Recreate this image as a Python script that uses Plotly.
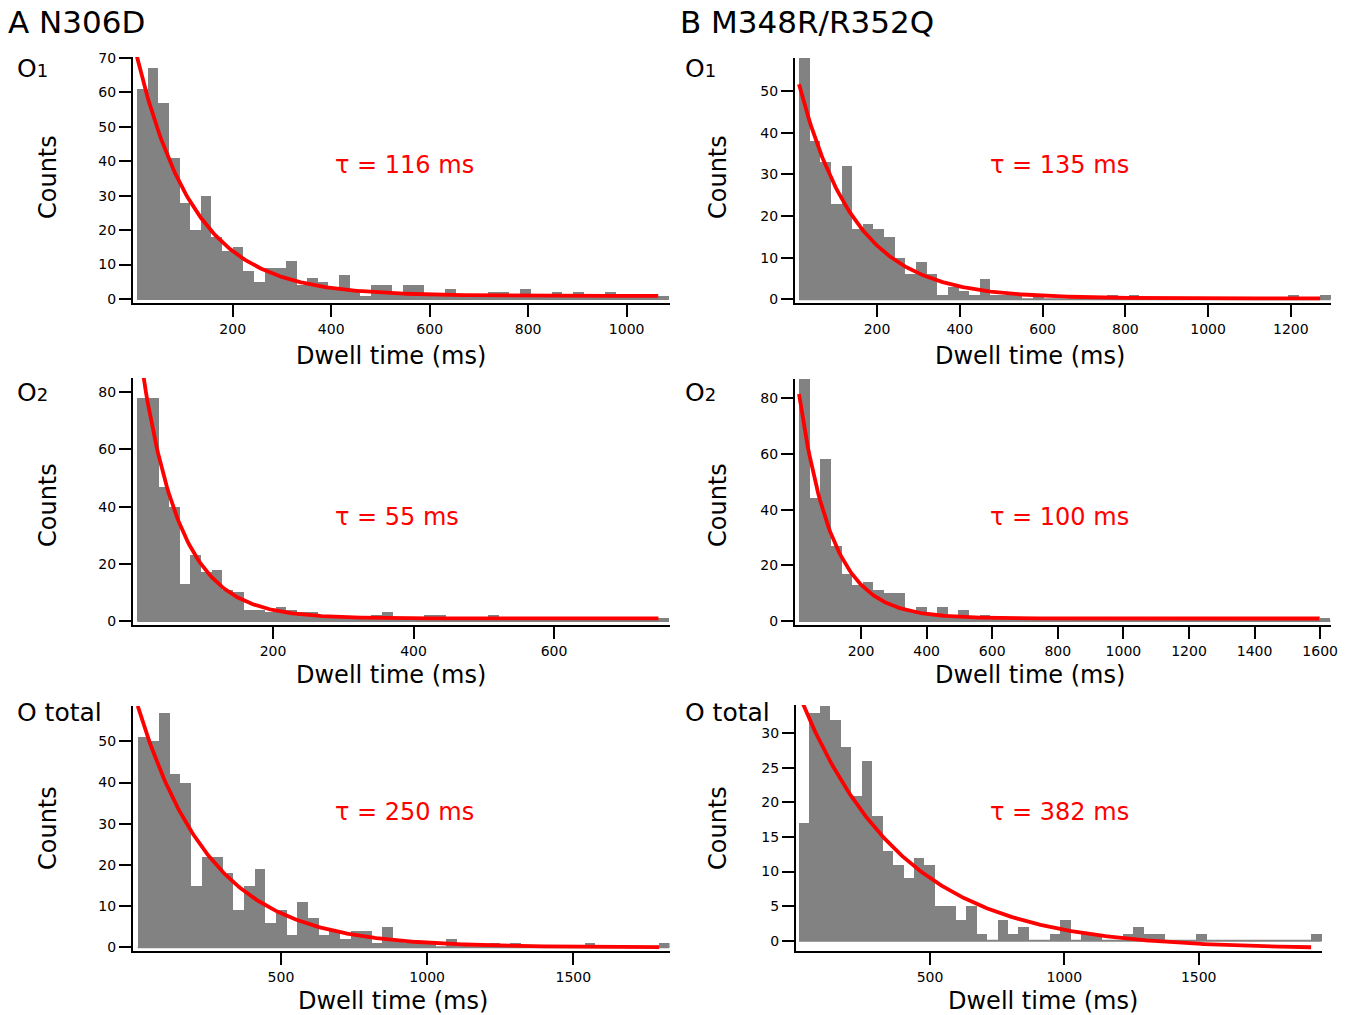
import plotly.graph_objects as go
import numpy as np

W, H = 1351, 1015
FONT = "DejaVu Sans"
GRAY = "#828282"
RED = "#ff0000"

# ---------------- data (counts per bin, 50 bins each) ----------------
a1_counts = [61, 67, 57, 41, 28, 20, 30, 18, 14, 15,
             8, 5, 9, 9, 11, 4, 6, 5, 3, 7,
             2, 1, 4, 4, 2, 4, 4, 1, 1, 3,
             1, 1, 1, 2, 2, 1, 3, 1, 1, 2,
             1, 2, 1, 1, 2, 1, 1, 1, 1, 1]
a2_counts = [78, 78, 47, 40, 13, 23, 17, 18, 11, 10,
             4, 4, 3, 5, 4, 3, 3, 2, 1, 1,
             1, 1, 2, 3, 1, 1, 1, 2, 2, 1,
             1, 1, 0, 2, 1, 1, 1, 1, 1, 1,
             1, 1, 1, 1, 1, 1, 1, 1, 1, 1]
a3_counts = [51, 50, 57, 42, 40, 15, 22, 22, 18, 9,
             15, 19, 6, 9, 3, 11, 7, 3, 4, 2,
             4, 4, 1, 5, 2, 1, 1, 1, 0, 2,
             1, 0, 0, 1, 0, 1, 0, 0, 0, 0,
             0, 0, 1, 0, 0, 0, 0, 0, 0, 1]
b1_counts = [58, 38, 33, 23, 32, 17, 18, 17, 15, 10,
             6, 9, 6, 1, 3, 2, 1, 5, 1, 1,
             1, 0, 1, 0, 0, 0, 0, 0, 0, 1,
             0, 1, 0, 0, 0, 0, 0, 0, 0, 0,
             0, 0, 0, 0, 0, 0, 1, 0, 0, 1]
b2_counts = [87, 44, 58, 27, 17, 13, 14, 11, 10, 10,
             4, 5, 2, 5, 1, 4, 1, 2, 1, 1,
             1, 0, 1, 1, 0, 1, 0, 0, 1, 0,
             1, 0, 0, 0, 0, 0, 0, 0, 0, 0,
             0, 0, 0, 0, 0, 0, 0, 0, 0, 1]
b3_counts = [17, 33, 34, 32, 28, 21, 26, 18, 13, 11,
             9, 12, 11, 5, 5, 3, 5, 1, 0, 3,
             1, 2, 0, 0, 1, 3, 0, 1, 1, 0,
             0, 1, 2, 1, 1, 0, 0, 0, 1, 0,
             0, 0, 0, 0, 0, 0, 0, 0, 0, 1]

# first bin start (ms), bin width (ms)
a1_bins = [5.7, 21.6]
a2_bins = [6.8, 15.14]
a3_bins = [9.9, 36.4]
b1_bins = [11.4, 25.7]
b2_bins = [11.0, 32.4]
b3_bins = [12.3, 38.9]

# single-exponential fit: amplitude, tau (ms), offset
a1_fit = [73, 116, 0.9]
a2_fit = [112, 55, 0.9]
a3_fit = [61, 250, 0.0]
b1_fit = [56, 135, 0.2]
b2_fit = [90, 100, 0.9]
b3_fit = [38, 382, -1.2]

# tick labels
a1_xticks = [200, 400, 600, 800, 1000]
a2_xticks = [200, 400, 600]
a3_xticks = [500, 1000, 1500]
b1_xticks = [200, 400, 600, 800, 1000, 1200]
b2_xticks = [200, 400, 600, 800, 1000, 1200, 1400, 1600]
b3_xticks = [500, 1000, 1500]
a1_yticks = [0, 10, 20, 30, 40, 50, 60, 70]
a2_yticks = [0, 20, 40, 60, 80]
a3_yticks = [0, 10, 20, 30, 40, 50]
b1_yticks = [0, 10, 20, 30, 40, 50]
b2_yticks = [0, 20, 40, 60, 80]
b3_yticks = [0, 5, 10, 15, 20, 25, 30]

state_labels = ["O<span style='font-size:18px'>1</span>",
                "O<span style='font-size:18px'>2</span>",
                "O total"]
panel_titles = ["A N306D", "B M348R/R352Q"]

# ---------------- layout geometry (pixels) ----------------
panels = [
    dict(c=a1_counts, b=a1_bins, f=a1_fit, xt=a1_xticks, yt=a1_yticks,
         xd=(133, 669.5), yd=(57, 303), xr=(-2.4, 1087), yr=(-1.16, 70.3)),
    dict(c=a2_counts, b=a2_bins, f=a2_fit, xt=a2_xticks, yt=a2_yticks,
         xd=(133, 669.5), yd=(378, 625), xr=(0.7, 764.4), yr=(-1.4, 85.0)),
    dict(c=a3_counts, b=a3_bins, f=a3_fit, xt=a3_xticks, yt=a3_yticks,
         xd=(133, 669.5), yd=(706, 951), xr=(-6.2, 1829), yr=(-0.9, 58.6)),
    dict(c=b1_counts, b=b1_bins, f=b1_fit, xt=b1_xticks, yt=b1_yticks,
         xd=(795, 1331), yd=(58, 303), xr=(1.7, 1297), yr=(-0.89, 58.0)),
    dict(c=b2_counts, b=b2_bins, f=b2_fit, xt=b2_xticks, yt=b2_yticks,
         xd=(795, 1331), yd=(379, 625), xr=(-1.2, 1633), yr=(-1.44, 86.9)),
    dict(c=b3_counts, b=b3_bins, f=b3_fit, xt=b3_xticks, yt=b3_yticks,
         xd=(796, 1322), yd=(705, 951), xr=(1.1, 1959), yr=(-1.49, 34.1)),
]


def px(x):
    return x / W


def py(y):
    return 1 - y / H


fig = go.Figure()
layout = {}
for i, p in enumerate(panels):
    n = i + 1
    xa = "x" if n == 1 else f"x{n}"
    ya = "y" if n == 1 else f"y{n}"
    start, width = p["b"]
    counts = np.array(p["c"], dtype=float)
    edges = start + width * np.arange(len(counts) + 1)
    centers = (edges[:-1] + edges[1:]) / 2
    fig.add_trace(go.Bar(x=centers, y=counts, width=width, marker=dict(color=GRAY, line=dict(width=0)),
                         xaxis=xa, yaxis=ya, showlegend=False, hoverinfo="skip"))
    fig.add_trace(go.Scatter(x=[edges[0], edges[-1]], y=[0, 0], mode="lines",
                             line=dict(color=GRAY, width=2), xaxis=xa, yaxis=ya,
                             showlegend=False, hoverinfo="skip"))
    A, tau, C = p["f"]
    tf = np.linspace(edges[0], edges[-2], 300)
    fig.add_trace(go.Scatter(x=tf, y=A * np.exp(-tf / tau) + C, mode="lines",
                             line=dict(color=RED, width=3.8), xaxis=xa, yaxis=ya,
                             showlegend=False, hoverinfo="skip", cliponaxis=True))
    axcommon = dict(showline=True, linecolor="black", linewidth=2, ticks="outside",
                    ticklen=12, tickwidth=2, tickcolor="black", showgrid=False,
                    zeroline=False, tickfont=dict(family=FONT, size=14, color="black"),
                    fixedrange=True, automargin=False)
    layout["xaxis" if n == 1 else f"xaxis{n}"] = dict(
        axcommon, domain=[px(p["xd"][0]), px(p["xd"][1])], range=list(p["xr"]),
        anchor=ya, tickmode="array", tickvals=p["xt"], ticktext=[str(v) for v in p["xt"]])
    layout["yaxis" if n == 1 else f"yaxis{n}"] = dict(
        axcommon, domain=[py(p["yd"][1]), py(p["yd"][0])], range=list(p["yr"]),
        anchor=xa, tickmode="array", tickvals=p["yt"], ticktext=[str(v) for v in p["yt"]])

ann = []


def add_text(text, x, y, size, xanchor="center", color="black", angle=0):
    ann.append(dict(text=text, x=px(x), y=py(y), xref="paper", yref="paper",
                    xanchor=xanchor, yanchor="middle", showarrow=False, textangle=angle,
                    font=dict(family=FONT, size=size, color=color)))


# panel titles
add_text(panel_titles[0], 6, 22, 31, xanchor="left")
add_text(panel_titles[1], 678, 22, 31, xanchor="left")
# state labels
state_y = [68, 392, 712]
for lab, yy in zip(state_labels, state_y):
    add_text(lab, 15, yy, 25, xanchor="left")
    add_text(lab, 683, yy, 25, xanchor="left")
# axis titles
for yy in [177, 505, 828]:
    add_text("Counts", 48, yy, 24, angle=-90)
    add_text("Counts", 718, yy, 24, angle=-90)
for (xx, yy) in [(391, 356), (391, 675), (393, 1001), (1030, 356), (1030, 675), (1043, 1001)]:
    add_text("Dwell time (ms)", xx, yy, 24)
# fit labels
fits = [a1_fit, a2_fit, a3_fit, b1_fit, b2_fit, b3_fit]
tau_pos = [(333, 165), (333, 517), (333, 812), (988, 165), (988, 517), (988, 812)]
for f, (xx, yy) in zip(fits, tau_pos):
    add_text(f"τ = {f[1]} ms", xx, yy, 24, xanchor="left", color=RED)

fig.update_layout(**layout)
fig.update_layout(width=W, height=H,
                  margin=dict(l=0, r=0, t=0, b=0, pad=0, autoexpand=False),
                  paper_bgcolor="white", plot_bgcolor="white", bargap=0,
                  annotations=ann, showlegend=False,
                  font=dict(family=FONT, color="black"))
fig.write_html("out.html", config={"displayModeBar": False},
               post_script="document.body.style.margin='0px';document.body.style.overflow='hidden';")
